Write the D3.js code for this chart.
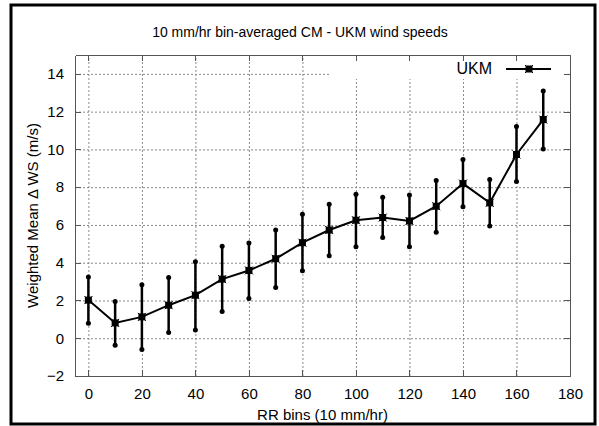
<!DOCTYPE html>
<html>
<head>
<meta charset="utf-8">
<script src="https://cdn.jsdelivr.net/npm/d3@7"></script>
<style>
  body { margin: 0; background: #fff; }
  svg { display: block; font-family: "Liberation Sans", Arial, sans-serif; }
  .grid line { stroke: #8a8a8a; stroke-width: 1; stroke-dasharray: 2,2; }
  .grid path { display: none; }
  .axis path, .axis line { stroke: #555; stroke-width: 1; shape-rendering: crispEdges; }
  .axis text { font-size: 15px; fill: #000; }
</style>
</head>
<body>
<div class="chart"></div>
<script>
// === Data ===
const bins = [0, 10, 20, 30, 40, 50, 60, 70, 80, 90, 100, 110, 120, 130, 140, 150, 160, 170];
const meanWS = [2.02, 0.81, 1.13, 1.75, 2.28, 3.13, 3.59, 4.21, 5.06, 5.73, 6.25, 6.39, 6.21, 6.99, 8.19, 7.17, 9.73, 11.58];
const upperWS = [3.24, 1.95, 2.83, 3.22, 4.05, 4.87, 5.04, 5.73, 6.57, 7.10, 7.63, 7.47, 7.58, 8.36, 9.47, 8.41, 11.22, 13.10];
const lowerWS = [0.80, -0.37, -0.60, 0.30, 0.44, 1.42, 2.11, 2.69, 3.58, 4.37, 4.85, 5.33, 4.85, 5.61, 6.96, 5.95, 8.30, 10.02];
const xTicks = [0, 20, 40, 60, 80, 100, 120, 140, 160, 180];
const yTicks = [-2, 0, 2, 4, 6, 8, 10, 12, 14];
const seriesName = "UKM";

const data = bins.map((b, i) => ({bin: b, mean: meanWS[i], hi: upperWS[i], lo: lowerWS[i]}));

// === Margin Convention ===
const W = 599, H = 426;
const margin = {top: 55, right: 29, bottom: 50, left: 75};
const width = W - margin.left - margin.right,
      height = H - margin.top - margin.bottom;

const root = d3.select(".chart").append("svg")
    .attr("width", W)
    .attr("height", H);

// outer frame
root.append("rect")
    .attr("x", 11).attr("y", 5)
    .attr("width", 584).attr("height", 419)
    .attr("fill", "none")
    .attr("stroke", "#000")
    .attr("stroke-width", 3);

const svg = root.append("g")
    .attr("transform", `translate(${margin.left},${margin.top})`);

// === Scales ===
const xScale = d3.scaleLinear().domain([-5, 180]).range([0, width]);
const yScale = d3.scaleLinear().domain([-2, 15]).range([height, 0]);

// === Grid ===
svg.append("g")
    .attr("class", "grid")
    .attr("transform", `translate(0,${height})`)
    .call(d3.axisBottom(xScale).tickValues(xTicks.slice(0, -1)).tickSize(-height).tickFormat(""));

svg.append("g")
    .attr("class", "grid")
    .call(d3.axisLeft(yScale).tickValues(yTicks.slice(1)).tickSize(-width).tickFormat(""));

// blank area behind the key
svg.append("rect")
    .attr("x", 329 - margin.left).attr("y", 1)
    .attr("width", 566 - 329).attr("height", 78 - margin.top)
    .attr("fill", "#fff");

// === Axes ===
svg.append("g")
    .attr("class", "axis x-axis")
    .attr("transform", `translate(0,${height})`)
    .call(d3.axisBottom(xScale).tickValues(xTicks).tickSize(-6).tickSizeOuter(0).tickPadding(12));

svg.append("g")
    .attr("class", "axis")
    .call(d3.axisTop(xScale).tickValues(xTicks).tickSize(-6).tickSizeOuter(0).tickFormat(""));

svg.append("g")
    .attr("class", "axis y-axis")
    .call(d3.axisLeft(yScale).tickValues(yTicks).tickSize(-6).tickSizeOuter(0).tickPadding(11));

svg.append("g")
    .attr("class", "axis")
    .attr("transform", `translate(${width},0)`)
    .call(d3.axisRight(yScale).tickValues(yTicks).tickSize(-6).tickSizeOuter(0).tickFormat(""));

// === Titles ===
root.append("text")
    .attr("x", 300).attr("y", 37)
    .attr("text-anchor", "middle")
    .attr("font-size", 14)
    .text("10 mm/hr bin-averaged CM - UKM wind speeds");

root.append("text")
    .attr("x", margin.left + width / 2).attr("y", 420)
    .attr("text-anchor", "middle")
    .attr("font-size", 15)
    .text("RR bins (10 mm/hr)");

root.append("text")
    .attr("transform", `translate(38,${margin.top + height / 2}) rotate(-90)`)
    .attr("text-anchor", "middle")
    .attr("font-size", 15)
    .text("Weighted Mean \u0394 WS (m/s)");

// === Error bars ===
const bars = svg.append("g").attr("class", "errorbars");
bars.selectAll("line")
    .data(data)
    .join("line")
    .attr("x1", d => xScale(d.bin)).attr("x2", d => xScale(d.bin))
    .attr("y1", d => yScale(d.lo)).attr("y2", d => yScale(d.hi))
    .attr("stroke", "#000").attr("stroke-width", 2.5);

bars.selectAll("circle.hi")
    .data(data)
    .join("circle").attr("class", "hi")
    .attr("cx", d => xScale(d.bin)).attr("cy", d => yScale(d.hi)).attr("r", 2.5);

bars.selectAll("circle.lo")
    .data(data)
    .join("circle").attr("class", "lo")
    .attr("cx", d => xScale(d.bin)).attr("cy", d => yScale(d.lo)).attr("r", 2.5);

// === Line ===
const line = d3.line().x(d => xScale(d.bin)).y(d => yScale(d.mean));
svg.append("path")
    .datum(data)
    .attr("fill", "none")
    .attr("stroke", "#000")
    .attr("stroke-width", 2)
    .attr("d", line);

// markers: filled square with small cross corners
function marker(g, x, y) {
    g.append("rect").attr("x", x - 3.5).attr("y", y - 3.5).attr("width", 7).attr("height", 7).attr("fill", "#000");
    g.append("path").attr("d", `M${x - 4},${y - 4}L${x + 4},${y + 4}M${x - 4},${y + 4}L${x + 4},${y - 4}`)
        .attr("stroke", "#000").attr("stroke-width", 1);
}
const marks = svg.append("g");
data.forEach(d => marker(marks, xScale(d.bin), yScale(d.mean)));

// === Legend ===
const key = svg.append("g").attr("transform", `translate(0,${69 - margin.top})`);
key.append("text")
    .attr("x", 492 - margin.left).attr("y", 5)
    .attr("text-anchor", "end")
    .attr("font-size", 16)
    .text(seriesName);
key.append("line")
    .attr("x1", 506 - margin.left).attr("x2", 551 - margin.left)
    .attr("stroke", "#000").attr("stroke-width", 2);
marker(key, 529 - margin.left, 0);
</script>
</body>
</html>
